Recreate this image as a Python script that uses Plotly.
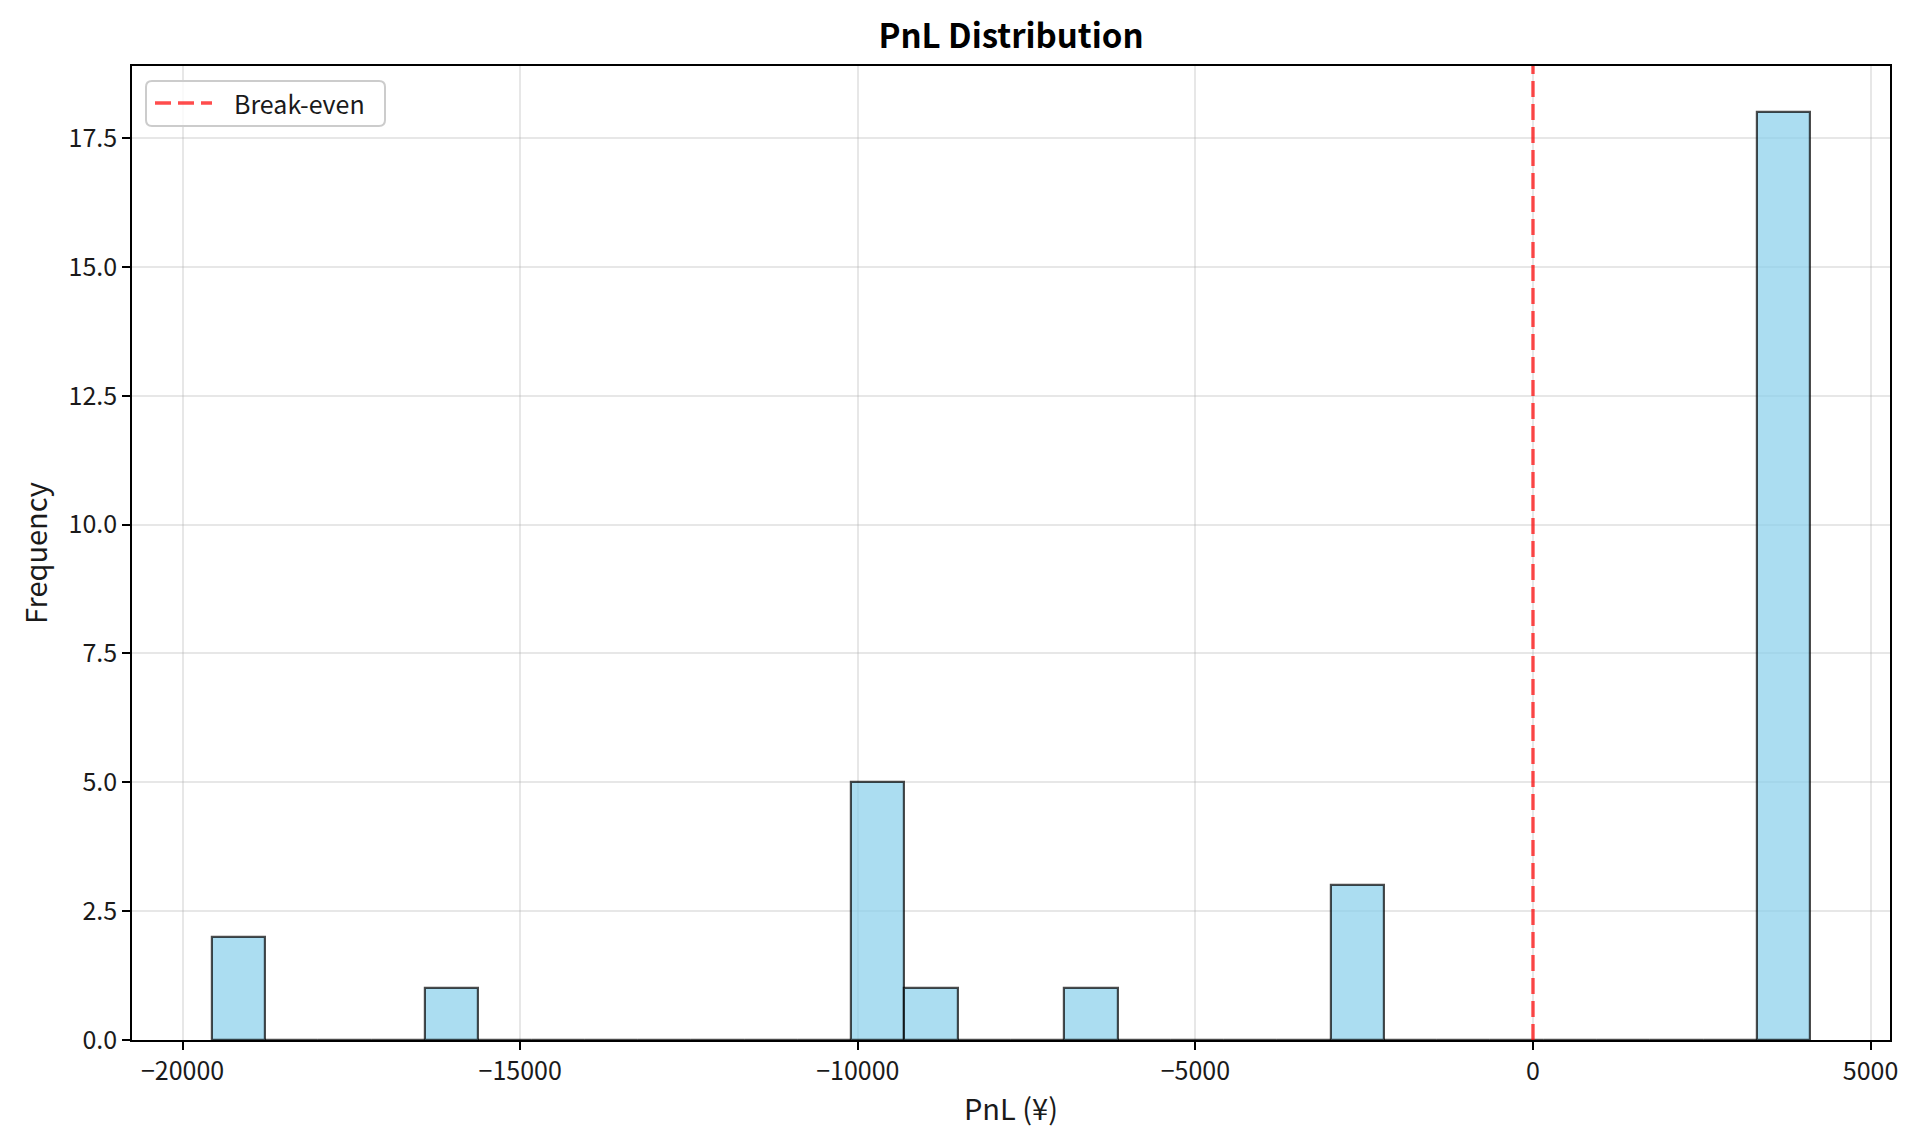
import plotly.graph_objects as go

# Histogram data (30 equal bins between min and max PnL)
pnl_min = -19566
pnl_max = 4104
bin_counts = [2, 0, 0, 0, 1, 0, 0, 0, 0, 0,
              0, 0, 5, 1, 0, 0, 1, 0, 0, 0,
              0, 3, 0, 0, 0, 0, 0, 0, 0, 18]
x_tick_vals = [-20000, -15000, -10000, -5000, 0, 5000]
x_tick_text = ["\u221220000", "\u221215000", "\u221210000", "\u22125000", "0", "5000"]
y_tick_vals = [0, 2.5, 5, 7.5, 10, 12.5, 15, 17.5]
y_tick_text = ["0.0", "2.5", "5.0", "7.5", "10.0", "12.5", "15.0", "17.5"]
break_even = 0
legend_label = "Break-even"

n_bins = len(bin_counts)
bw = (pnl_max - pnl_min) / n_bins
centers = [pnl_min + bw * (i + 0.5) for i in range(n_bins)]

span = pnl_max - pnl_min
x_range = [pnl_min - 0.05 * span, pnl_max + 0.05 * span]
y_range = [0, max(bin_counts) * 1.05]

FONT = "Noto Sans CJK JP"
TXT = "#1a1a1a"
RED = "rgba(255,0,0,0.7)"
DASH = "16px,7px"

fig = go.Figure()
fig.add_trace(go.Bar(
    x=centers, y=bin_counts, width=[bw] * n_bins,
    marker=dict(color="rgba(135,206,235,0.7)",
                line=dict(color="rgba(0,0,0,0.7)", width=2.2)),
    showlegend=False, hoverinfo="x+y",
))
fig.add_trace(go.Scatter(
    x=[break_even, break_even], y=y_range, mode="lines",
    line=dict(color=RED, width=3.4, dash=DASH),
    name=legend_label, showlegend=False,
))

# manual legend (pixel offsets from plot-area top-left)
L, T = 132, 66
bx0, bx1, by0, by1, r = 146 - L, 385 - L, -(81 - T), -(126 - T), 6
path = (f"M{bx0+r},{by0} L{bx1-r},{by0} Q{bx1},{by0} {bx1},{by0-r} "
        f"L{bx1},{by1+r} Q{bx1},{by1} {bx1-r},{by1} L{bx0+r},{by1} "
        f"Q{bx0},{by1} {bx0},{by1+r} L{bx0},{by0-r} Q{bx0},{by0} {bx0+r},{by0} Z")
fig.add_shape(type="path", xref="paper", yref="paper", xsizemode="pixel", ysizemode="pixel",
              xanchor=0, yanchor=1, path=path,
              line=dict(color="rgba(204,204,204,1)", width=2),
              fillcolor="rgba(255,255,255,0.8)", layer="above")
ly = -(103 - T)
fig.add_shape(type="line", xref="paper", yref="paper", xsizemode="pixel", ysizemode="pixel",
              xanchor=0, yanchor=1, x0=155 - L, x1=212 - L, y0=ly, y1=ly,
              line=dict(color=RED, width=3.4, dash=DASH), layer="above")
fig.add_annotation(xref="paper", yref="paper", x=0, y=1, xanchor="left", yanchor="middle",
                   xshift=232 - L, yshift=ly, text=legend_label, showarrow=False,
                   font=dict(size=25, family=FONT, color=TXT))

fig.update_layout(
    width=1920, height=1147,
    margin=dict(l=132, r=30, t=66, b=107),
    paper_bgcolor="white", plot_bgcolor="white",
    font=dict(family=FONT, color=TXT, size=25),
    title=dict(text="<b>PnL Distribution</b>", x=1011 / 1920, xanchor="center",
               y=1 - 36 / 1147, yanchor="middle",
               font=dict(size=33, family=FONT, color="black")),
    bargap=0,
    showlegend=False,
)

fig.update_xaxes(
    range=x_range, tickmode="array", tickvals=x_tick_vals, ticktext=x_tick_text,
    showgrid=True, gridcolor="rgba(176,176,176,0.3)", gridwidth=1.5,
    showline=True, linecolor="black", linewidth=1.8, mirror=True,
    ticks="outside", ticklen=8, tickwidth=1.8, tickcolor="black",
    zeroline=False,
    title=dict(text="PnL (¥)", font=dict(size=29, family=FONT, color=TXT), standoff=14),
    tickfont=dict(size=25, family=FONT, color=TXT),
)
fig.update_yaxes(
    range=y_range, tickmode="array", tickvals=y_tick_vals, ticktext=y_tick_text,
    showgrid=True, gridcolor="rgba(176,176,176,0.3)", gridwidth=1.5,
    showline=True, linecolor="black", linewidth=1.8, mirror=True,
    ticks="outside", ticklen=8, tickwidth=1.8, tickcolor="black",
    zeroline=False,
    title=dict(text="Frequency", font=dict(size=29, family=FONT, color=TXT), standoff=12),
    tickfont=dict(size=25, family=FONT, color=TXT),
)

fig.write_html("out.html")
